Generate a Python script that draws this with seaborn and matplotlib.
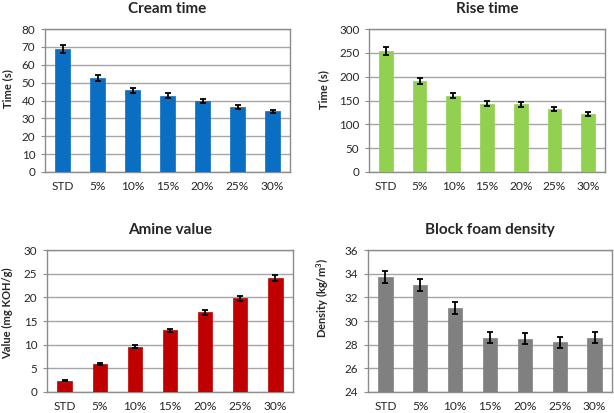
import matplotlib
matplotlib.use("Agg")
import matplotlib.pyplot as plt
import seaborn as sns
import pandas as pd

categories = ["STD", "5%", "10%", "15%", "20%", "25%", "30%"]

cream_time = [68.8, 52.5, 45.7, 42.6, 39.7, 36.4, 33.9]
cream_err = [2.1, 1.5, 1.4, 1.4, 1.2, 1.2, 1.0]

rise_time = [254, 191, 160, 143, 142, 133, 121]
rise_err = [9, 6, 5, 5, 5, 4, 4]

amine_value = [2.4, 5.9, 9.6, 13.0, 16.8, 19.8, 24.1]
amine_err = [0.15, 0.25, 0.3, 0.4, 0.5, 0.55, 0.7]

density = [33.7, 33.05, 31.1, 28.6, 28.5, 28.2, 28.6]
density_err = [0.5, 0.5, 0.5, 0.45, 0.45, 0.45, 0.45]

panels = [
    dict(title="Cream time", ylabel="Time (s)", vals=cream_time, err=cream_err,
         color="#0A6FC2", ylim=(0, 80), step=10,
         rect=(45, 29, 290, 172), lab=(-0.131, 0.585)),
    dict(title="Rise time", ylabel="Time (s)", vals=rise_time, err=rise_err,
         color="#92D050", ylim=(0, 300), step=50,
         rect=(369, 29, 605, 172), lab=(-0.167, 0.573)),
    dict(title="Amine value", ylabel="Value (mg KOH/g)", vals=amine_value, err=amine_err,
         color="#C00000", ylim=(0, 30), step=5,
         rect=(47, 250, 293, 392), lab=(-0.138, 0.556)),
    dict(title="Block foam density", ylabel="Density (kg/m$^\\mathbf{3}$)", vals=density,
         err=density_err, color="#808080", ylim=(24, 36), step=2,
         rect=(368, 250, 612, 392), lab=(-0.15, 0.66)),
]

sns.set_theme(style="white")
plt.rcParams["font.family"] = ["Lato", "DejaVu Sans"]
plt.rcParams["mathtext.fontset"] = "custom"
plt.rcParams["mathtext.bf"] = "Lato:bold"
plt.rcParams["mathtext.rm"] = "Lato"

W, H = 614, 413
fig = plt.figure(figsize=(W / 100, H / 100), dpi=100)

for p in panels:
    l, t, r, b = p["rect"]
    ax = fig.add_axes([l / W, 1 - b / H, (r - l) / W, (b - t) / H])
    df = pd.DataFrame({"cat": categories, "val": p["vals"]})
    sns.barplot(data=df, x="cat", y="val", color=p["color"], width=0.41,
                saturation=1, errorbar=None, ax=ax, zorder=3,
                edgecolor=p["color"], linewidth=0.5)
    ax.errorbar(range(len(categories)), p["vals"], yerr=p["err"], fmt="none",
                ecolor="black", elinewidth=1.3, capsize=2.2, capthick=1.3, zorder=4)
    lo, hi = p["ylim"]
    ax.set_ylim(lo, hi)
    ax.set_xlim(-0.5, len(categories) - 0.5)
    ticks = list(range(lo, hi + 1, p["step"]))
    ax.set_yticks(ticks)
    ax.set_yticklabels([str(v) for v in ticks])
    ax.yaxis.grid(True, color="#A6A6A6", linewidth=1.0, zorder=0)
    ax.set_axisbelow(True)
    for s in ax.spines.values():
        s.set_visible(True)
        s.set_color("#8C8C8C")
        s.set_linewidth(1.0)
    ax.tick_params(axis="y", which="both", left=True, length=3, width=0.8,
                   color="#8C8C8C", labelsize=8.4, pad=4, labelcolor="#262626")
    ax.tick_params(axis="x", bottom=False, labelsize=8.6, pad=0.5, labelcolor="#262626")
    ax.set_xlabel("")
    ax.set_ylabel(p["ylabel"], fontsize=8, fontweight="bold")
    ax.yaxis.set_label_coords(*p["lab"])
    ax.set_title(p["title"], fontsize=11, fontweight="bold", pad=11.5)

fig.savefig("out.png", dpi=100)
